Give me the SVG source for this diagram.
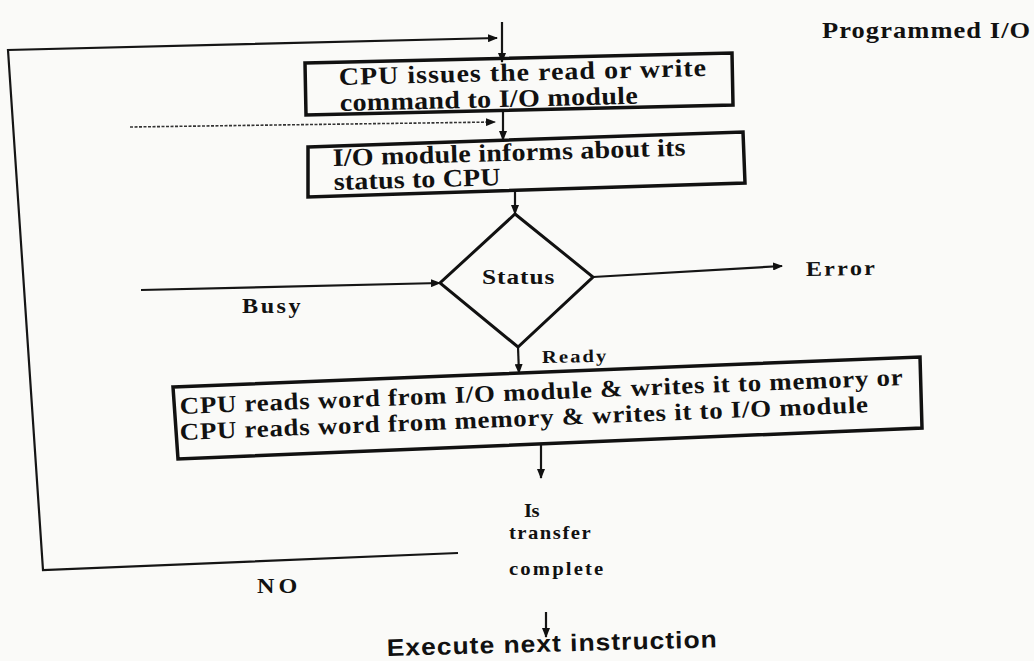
<svg xmlns="http://www.w3.org/2000/svg" width="1034" height="661" viewBox="0 0 1034 661">
<style>
.bx{fill:none;stroke:#111;stroke-width:3.5;stroke-linejoin:miter}
.dm{fill:none;stroke:#111;stroke-width:3}
.ln{fill:none;stroke:#151515;stroke-width:2.2}
.dot{fill:none;stroke:#333;stroke-width:1.6;stroke-dasharray:3 1.5}
.t{font-family:"Liberation Serif","Times New Roman",serif;font-weight:bold;fill:#111}
.s{font-family:"Liberation Sans",Arial,sans-serif;font-weight:bold;fill:#111}
</style>
<defs>
<marker id="ah" markerWidth="10" markerHeight="8" refX="9" refY="4" orient="auto" markerUnits="userSpaceOnUse">
<path d="M0,0 L10,4 L0,8 Z" fill="#111"/>
</marker>
</defs>
<rect width="1034" height="661" fill="#fafaf8"/>

<g id="connectors">
<polyline class="ln" points="458,553 43,570 8,50 497,38" marker-end="url(#ah)"/>
<line class="ln" x1="502" y1="22" x2="502" y2="62" marker-end="url(#ah)"/>
<line class="dot" x1="130" y1="127" x2="495" y2="122" marker-end="url(#ah)"/>
<line class="ln" x1="503" y1="112" x2="503" y2="140" marker-end="url(#ah)"/>
<line class="ln" x1="515" y1="191" x2="515" y2="214" marker-end="url(#ah)"/>
<line class="ln" x1="141" y1="290" x2="440" y2="283" marker-end="url(#ah)"/>
<line class="ln" x1="593" y1="277" x2="782" y2="266" marker-end="url(#ah)"/>
<line class="ln" x1="518" y1="347" x2="519" y2="373" marker-end="url(#ah)"/>
<line class="ln" x1="541" y1="444" x2="541" y2="478" marker-end="url(#ah)"/>
<line class="ln" x1="546" y1="612" x2="546" y2="637" marker-end="url(#ah)"/>
</g>

<g id="title">
<text class="t" font-size="23" textLength="181" lengthAdjust="spacing" transform="translate(822 38) scale(1.15 1)">Programmed I/O</text>
</g>

<g id="issue-command">
<polygon class="bx" points="305,63 732,53 733,105 306,115"/>
<text class="t" font-size="25" textLength="328" lengthAdjust="spacing" transform="translate(339 85) rotate(-1.4) scale(1.12 1)">CPU issues the read or write</text>
<text class="t" font-size="25" textLength="266" lengthAdjust="spacing" transform="translate(340 111) rotate(-1.4) scale(1.12 1)">command to I/O module</text>
</g>

<g id="inform-status">
<polygon class="bx" points="308,147 743,132 745,183 308,197"/>
<text class="t" font-size="25" textLength="315" lengthAdjust="spacing" transform="translate(333 166) rotate(-1.7) scale(1.12 1)">I/O module informs about its</text>
<text class="t" font-size="25" textLength="149" lengthAdjust="spacing" transform="translate(334 190) rotate(-1.7) scale(1.12 1)">status to CPU</text>
</g>

<g id="status">
<polygon class="dm" points="515,214 593,277 518,347 440,283"/>
<text class="t" font-size="22" textLength="63" lengthAdjust="spacing" transform="translate(482 284) scale(1.15 1)">Status</text>
</g>

<g id="busy-label"><text class="t" font-size="21" textLength="51" lengthAdjust="spacing" transform="translate(242 313) scale(1.15 1)">Busy</text></g>
<g id="error-label"><text class="t" font-size="21" textLength="60" lengthAdjust="spacing" transform="translate(806 276) rotate(-1) scale(1.15 1)">Error</text></g>
<g id="ready-label"><text class="t" font-size="18" textLength="56" lengthAdjust="spacing" transform="translate(542 363) rotate(-1) scale(1.15 1)">Ready</text></g>

<g id="transfer-word">
<polygon class="bx" points="173,387 920,357 922,428 178,459"/>
<text class="t" font-size="24" textLength="646" lengthAdjust="spacing" transform="translate(180 414) rotate(-2.3) scale(1.12 1)">CPU reads word from I/O module &amp; writes it to memory or</text>
<text class="t" font-size="24" textLength="615" lengthAdjust="spacing" transform="translate(180 440) rotate(-2.3) scale(1.12 1)">CPU reads word from memory &amp; writes it to I/O module</text>
</g>

<g id="transfer-complete">
<text class="t" font-size="18" textLength="13.5" lengthAdjust="spacing" transform="translate(524 517) scale(1.15 1)">Is</text>
<text class="t" font-size="18" textLength="71" lengthAdjust="spacing" transform="translate(509 539) scale(1.15 1)">transfer</text>
<text class="t" font-size="18" textLength="82" lengthAdjust="spacing" transform="translate(509 575) scale(1.15 1)">complete</text>
</g>

<g id="no-label"><text class="t" font-size="21" textLength="35" lengthAdjust="spacing" transform="translate(257 593) scale(1.15 1)">NO</text></g>

<g id="execute-next">
<text class="s" font-size="24" textLength="300" lengthAdjust="spacing" transform="translate(387 656) rotate(-1.5) scale(1.1 1)">Execute next instruction</text>
</g>
</svg>
